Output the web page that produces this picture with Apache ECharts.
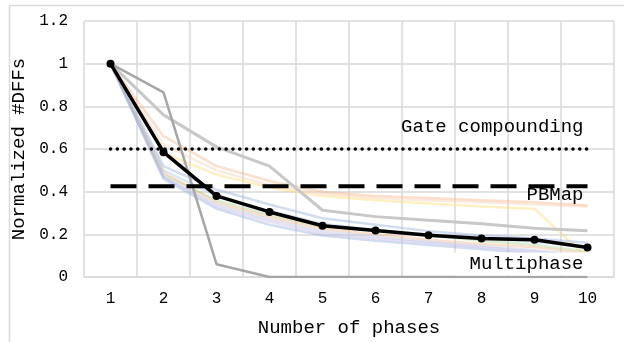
<!DOCTYPE html>
<html>
<head>
<meta charset="utf-8">
<script src="https://cdn.jsdelivr.net/npm/echarts@6/dist/echarts.min.js"></script>
<style>
html,body{margin:0;padding:0;background:#fff;}
#chart{width:624px;height:342px;}
</style>
</head>
<body>
<div id="chart"></div>
<script>
// x categories
var phases = ['1','2','3','4','5','6','7','8','9','10'];

// main curve
var multiphase = [1, 0.585, 0.38, 0.305, 0.24, 0.218, 0.196, 0.18, 0.175, 0.138];
// reference levels
var gateCompounding = [0.6, 0.6, 0.6, 0.6, 0.6, 0.6, 0.6, 0.6, 0.6, 0.6];
var pbmap = [0.425, 0.425, 0.425, 0.425, 0.425, 0.425, 0.425, 0.425, 0.425, 0.425];

// gray benchmark curves
var grayDark = [1, 0.865, 0.06, 0, 0, 0, 0, 0, 0, 0];
var grayLight = [1, 0.76, 0.61, 0.52, 0.313, 0.283, 0.266, 0.25, 0.228, 0.217];

// faint per-benchmark curves
var orangeA = [1, 0.66, 0.52, 0.45, 0.40, 0.38, 0.37, 0.36, 0.35, 0.335];
var orangeB = [1, 0.62, 0.50, 0.43, 0.39, 0.37, 0.36, 0.35, 0.34, 0.33];
var yellowA = [1, 0.58, 0.48, 0.42, 0.38, 0.36, 0.345, 0.33, 0.32, 0.09];
var blueA = [1, 0.52, 0.41, 0.34, 0.275, 0.245, 0.215, 0.195, 0.18, 0.16];
var blueB = [1, 0.50, 0.38, 0.31, 0.25, 0.22, 0.20, 0.18, 0.165, 0.14];
var greenA = [1, 0.48, 0.36, 0.29, 0.235, 0.215, 0.195, 0.17, 0.15, 0.12];
var orangeC = [1, 0.49, 0.35, 0.28, 0.225, 0.20, 0.175, 0.155, 0.14, 0.11];
var blueC = [1, 0.47, 0.34, 0.27, 0.215, 0.19, 0.165, 0.145, 0.125, 0.10];
var purpleA = [1, 0.47, 0.33, 0.26, 0.205, 0.18, 0.16, 0.14, 0.12, 0.095];
var blueD = [1, 0.46, 0.32, 0.245, 0.195, 0.17, 0.15, 0.13, 0.11, 0.085];

var yTicks = {min: 0, max: 1.2, interval: 0.2};

var FONT = '"Liberation Mono", "DejaVu Sans Mono", monospace';

function faint(data, color){
	return {
		type: 'line',
		data: data,
		symbol: 'none',
		silent: true,
		z: 2,
		lineStyle: {color: color, width: 2.5, opacity: 0.4}
	};
}

var chart = echarts.init(document.getElementById('chart'));

var opt = {
	animation: false,
	grid: {left: 84, right: 10, top: 21, bottom: 63},
	xAxis: {
		type: 'category',
		data: phases,
		boundaryGap: true,
		name: 'Number of phases',
		nameLocation: 'middle',
		nameGap: 41,
		nameTextStyle: {fontFamily: FONT, fontSize: 19, color: '#000'},
		axisLine: {lineStyle: {color: '#d9d9d9', width: 1.5}},
		axisTick: {show: false},
		axisLabel: {fontFamily: FONT, fontSize: 16, color: '#000', margin: 14},
		splitLine: {show: true, lineStyle: {color: '#d9d9d9', width: 1.5}}
	},
	yAxis: {
		type: 'value',
		min: yTicks.min,
		max: yTicks.max,
		interval: yTicks.interval,
		name: 'Normalized #DFFs',
		nameLocation: 'middle',
		nameGap: 55,
		nameTextStyle: {fontFamily: FONT, fontSize: 19, color: '#000'},
		axisLine: {show: false},
		axisTick: {show: false},
		axisLabel: {fontFamily: FONT, fontSize: 16, color: '#000', margin: 16},
		splitLine: {lineStyle: {color: '#d9d9d9', width: 1.5}}
	},
	series: [
		faint(orangeA, '#f4b183'),
		faint(orangeB, '#f8cbad'),
		faint(yellowA, '#ffd966'),
		faint(blueA, '#8faadc'),
		faint(blueB, '#9dc3e6'),
		faint(greenA, '#a9d18e'),
		faint(orangeC, '#f4b183'),
		faint(blueC, '#b4c7e7'),
		faint(purpleA, '#c9b3e0'),
		faint(blueD, '#8faadc'),
		{
			type: 'line', data: grayLight, symbol: 'none', z: 3,
			lineStyle: {color: '#c8c8c8', width: 3}
		},
		{
			type: 'line', data: grayDark, symbol: 'none', z: 3,
			lineStyle: {color: '#a6a6a6', width: 2.5}
		},
		{
			type: 'line', data: gateCompounding, symbol: 'none', z: 4,
			lineStyle: {color: '#000', width: 3.5, type: [0.1, 6.7], cap: 'round'}
		},
		{
			type: 'line', data: pbmap, symbol: 'none', z: 4,
			lineStyle: {color: '#000', width: 4, type: [26, 12]}
		},
		{
			type: 'line', data: multiphase, z: 5,
			symbol: 'circle', symbolSize: 8,
			itemStyle: {color: '#000'},
			lineStyle: {color: '#000', width: 3.5}
		}
	]
};
chart.setOption(opt);

// text labels anchored to data positions
var pGate = chart.convertToPixel({xAxisIndex: 0, yAxisIndex: 0}, ['10', gateCompounding[9]]);
var pPb = chart.convertToPixel({xAxisIndex: 0, yAxisIndex: 0}, ['10', pbmap[9]]);
var pZero = chart.convertToPixel({xAxisIndex: 0, yAxisIndex: 0}, ['10', 0]);

chart.setOption({
	graphic: [
		{
			type: 'rect', left: 7, top: 3, silent: true, z: -1,
			shape: {width: 700, height: 400},
			style: {fill: 'none', stroke: '#d9d9d9', lineWidth: 1.5}
		},
		{
			type: 'text', x: pGate[0] - 4, y: pGate[1] - 22, z: 10,
			style: {text: 'Gate compounding', font: '19px ' + FONT, fill: '#000', textAlign: 'right', textVerticalAlign: 'middle'}
		},
		{
			type: 'text', x: pPb[0] - 4, y: pPb[1] + 9, z: 10,
			style: {text: 'PBMap', font: '19px ' + FONT, fill: '#000', textAlign: 'right', textVerticalAlign: 'middle'}
		},
		{
			type: 'text', x: pZero[0] + 2, y: pZero[1] - 13, z: 10,
			style: {
				text: 'Multiphase', font: '19px ' + FONT, fill: '#000',
				textAlign: 'right', textVerticalAlign: 'middle',
				backgroundColor: '#fff', padding: [2, 6, 2, 16]
			}
		}
	]
});
</script>
</body>
</html>
